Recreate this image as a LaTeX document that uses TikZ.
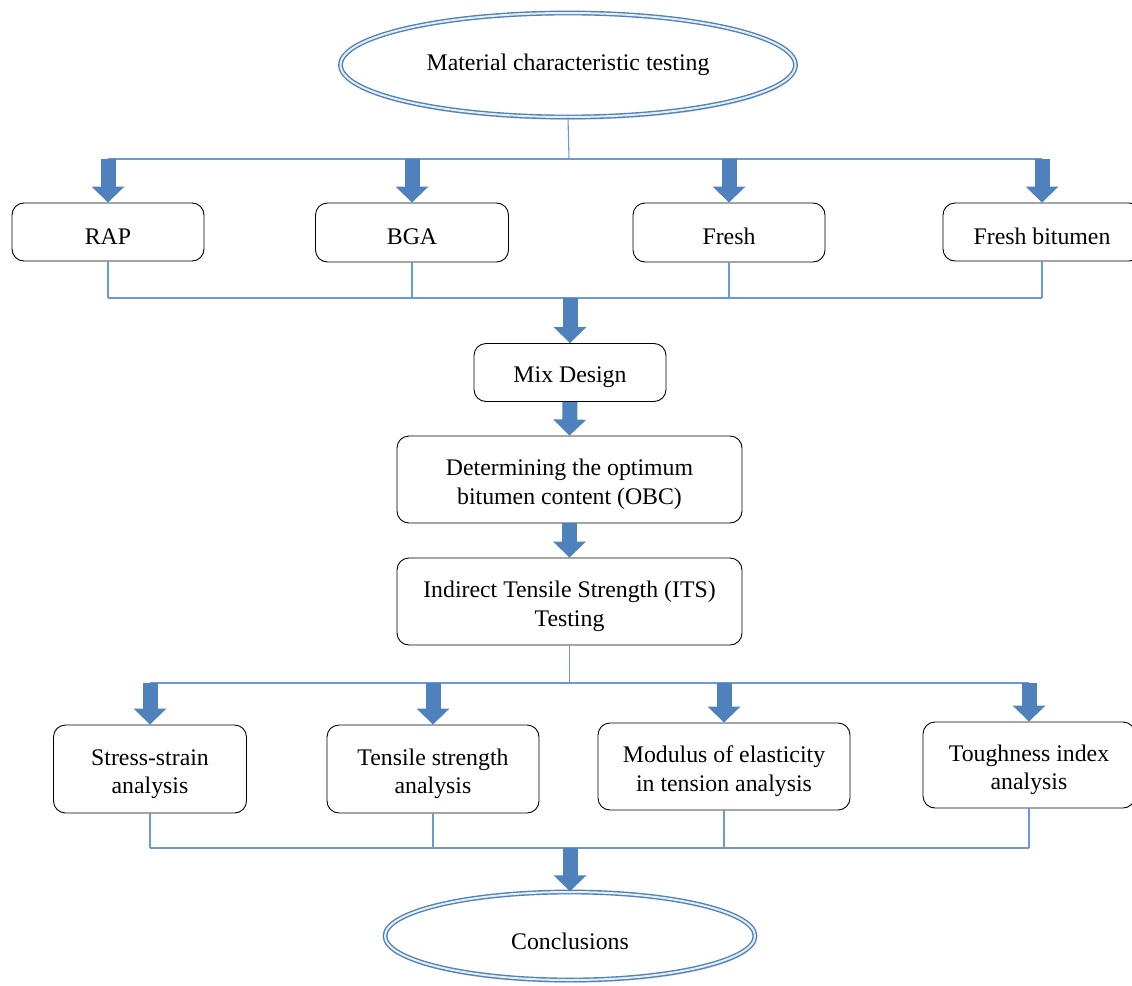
\documentclass[tikz,border=0pt]{standalone}
\usepackage{fontspec}
\setmainfont{Liberation Serif}
\usetikzlibrary{arrows.meta, shapes.geometric, shadows, calc}
\definecolor{arrowblue}{HTML}{4F81BD}
\definecolor{lineblue}{HTML}{6A9AD6}
\definecolor{ringfill}{HTML}{E6EEF8}
\tikzset{
  box/.style={draw=black, line width=0.9pt, rounded corners=12pt, fill=white,
    align=center, inner sep=0pt, text height=25pt,
    font=\fontsize{23.8}{28.5}\selectfont},
  twoline/.style={text height=55pt},
  oval/.style={ellipse, draw=arrowblue, line width=1.4pt, double=ringfill,
    double distance=2pt, fill=white, inner sep=0pt,
    font=\fontsize{23.8}{28.5}\selectfont,
    drop shadow={shadow xshift=1pt, shadow yshift=-3pt, opacity=.2, fill=gray}},
  feed/.style={draw=lineblue, line width=1.1pt},
  blockarrow/.style={draw=arrowblue, line width=15pt,
    -{Triangle[width=32pt, length=16pt]}}
}

\begin{document}
\begin{tikzpicture}[x=1pt, y=-1pt]
  \useasboundingbox (0,0) rectangle (1132,985);

  % start
  \node[oval, minimum width=455pt, minimum height=104pt] (mct) at (568,65) {Material characteristic testing};

  % materials
  \node[box, minimum width=192pt, minimum height=58pt] (rap) at (108,232) {RAP};
  \node[box, minimum width=193pt, minimum height=59pt] (bga) at (412,232.5) {BGA};
  \node[box, minimum width=192pt, minimum height=59pt] (fresh) at (729,232.5) {Fresh};
  \node[box, minimum width=198pt, minimum height=58pt] (fbit) at (1042,232) {Fresh bitumen};

  \coordinate (top) at (569,159);
  \draw[feed] (mct.south) -- (top);
  \draw[feed] (rap.north |- top) -- (fbit.north |- top);
  \foreach \b in {rap, bga, fresh, fbit}
  \draw[blockarrow] (\b.north |- top) -- (\b.north);

  \coordinate (mid) at (570,298);
  \foreach \b in {rap, bga, fresh, fbit}
  \draw[feed] (\b.south) -- (\b.south |- mid);
  \draw[feed] (rap.south |- mid) -- (fbit.south |- mid);

  % design
  \node[box, minimum width=192pt, minimum height=58pt] (mix) at (570,372.5) {Mix Design};
  \node[box, twoline, minimum width=345pt, minimum height=87pt] (obc) at (569.5,479.5) {Determining the optimum\\bitumen content (OBC)};
  \node[box, twoline, minimum width=345pt, minimum height=87pt] (its) at (569.5,601.5) {Indirect Tensile Strength (ITS)\\Testing};

  \draw[blockarrow] (mid) -- (mix.north);
  \draw[blockarrow] (mix.south) -- (obc.north);
  \draw[blockarrow] (obc.south) -- (its.north);

  % analyses
  \node[box, twoline, minimum width=193pt, minimum height=88pt] (stress) at (150,769) {Stress-strain\\analysis};
  \node[box, twoline, minimum width=212pt, minimum height=88pt] (tensile) at (433,769) {Tensile strength\\analysis};
  \node[box, twoline, minimum width=252pt, minimum height=87pt] (modulus) at (724,766.5) {Modulus of elasticity\\in tension analysis};
  \node[box, twoline, minimum width=212pt, minimum height=86pt] (tough) at (1029,765) {Toughness index\\analysis};

  \coordinate (split) at (568,683);
  \draw[feed] (its.south) -- (its.south |- split);
  \draw[feed] (stress.north |- split) -- (tough.north |- split);
  \foreach \b in {stress, tensile, modulus, tough}
  \draw[blockarrow] (\b.north |- split) -- (\b.north);

  \coordinate (join) at (570,848);
  \foreach \b in {stress, tensile, modulus, tough}
  \draw[feed] (\b.south) -- (\b.south |- join);
  \draw[feed] (stress.south |- join) -- (tough.south |- join);

  % end
  \node[oval, minimum width=370pt, minimum height=88pt, text height=28pt] (concl) at (570,936) {Conclusions};
  \draw[blockarrow] (join) -- (concl.north);
\end{tikzpicture}
\end{document}
